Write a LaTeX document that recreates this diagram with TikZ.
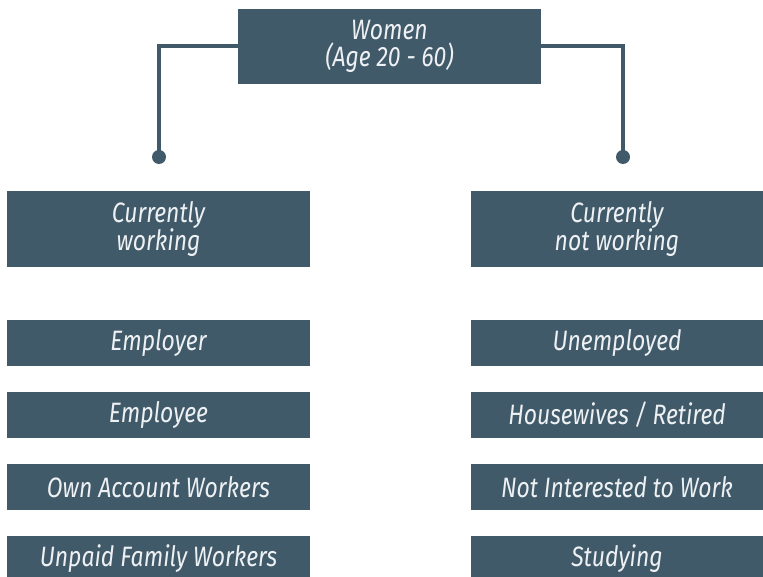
\documentclass[tikz,border=0pt]{standalone}
\usepackage{fontspec}
\setmainfont{Fira Sans}[FakeStretch=0.82]
\definecolor{slate}{HTML}{415A6A}
\definecolor{boxtext}{HTML}{EEF1F3}
\begin{document}
\begin{tikzpicture}[x=1pt,y=-1pt,
  box/.style={fill=slate, text=boxtext, inner sep=0pt, align=center,
    font=\fontsize{28}{27}\selectfont\itshape},
  leftbox/.style={box, minimum width=303pt},
  rightbox/.style={box, minimum width=292pt},
  tall/.style={minimum height=76pt},
  short/.style={minimum height=46pt},
  link/.style={draw=slate, line width=4pt},
  dot/.style={circle, fill=slate, minimum size=14pt, inner sep=0pt}]
\useasboundingbox (0,0) rectangle (763,577);
\fill[white] (0,0) rectangle (763,577);

% root
\node[box, minimum width=303pt, minimum height=75pt] (root) at (389.5,46.5) {Women\\(Age 20 - 60)};

% branch end points
\node[dot] (ldot) at (159,157) {};
\node[dot] (rdot) at (623,157) {};
\draw[link] (root.west) -| (ldot.center);
\draw[link] (root.east) -| (rdot.center);

% left column
\node[leftbox, tall]  (work)   at (158.5,229) {Currently\\working};
\node[leftbox, short] (empr)   at (158.5,343) {Employer};
\node[leftbox, short] (empe)   at (158.5,415) {Employee};
\node[leftbox, short] (own)    at (158.5,487) {Own Account Workers};
\node[leftbox, short] (unpaid) at (158.5,559) {Unpaid Family Workers};

% right column
\node[rightbox, tall]  (notwork) at (617,229) {Currently\\not working};
\node[rightbox, short] (unemp)   at (617,343) {Unemployed};
\node[rightbox, short] (house)   at (617,415) {Housewives / Retired};
\node[rightbox, short] (notint)  at (617,487) {Not Interested to Work};
\node[rightbox, short] (study)   at (617,559) {Studying};
\end{tikzpicture}
\end{document}
